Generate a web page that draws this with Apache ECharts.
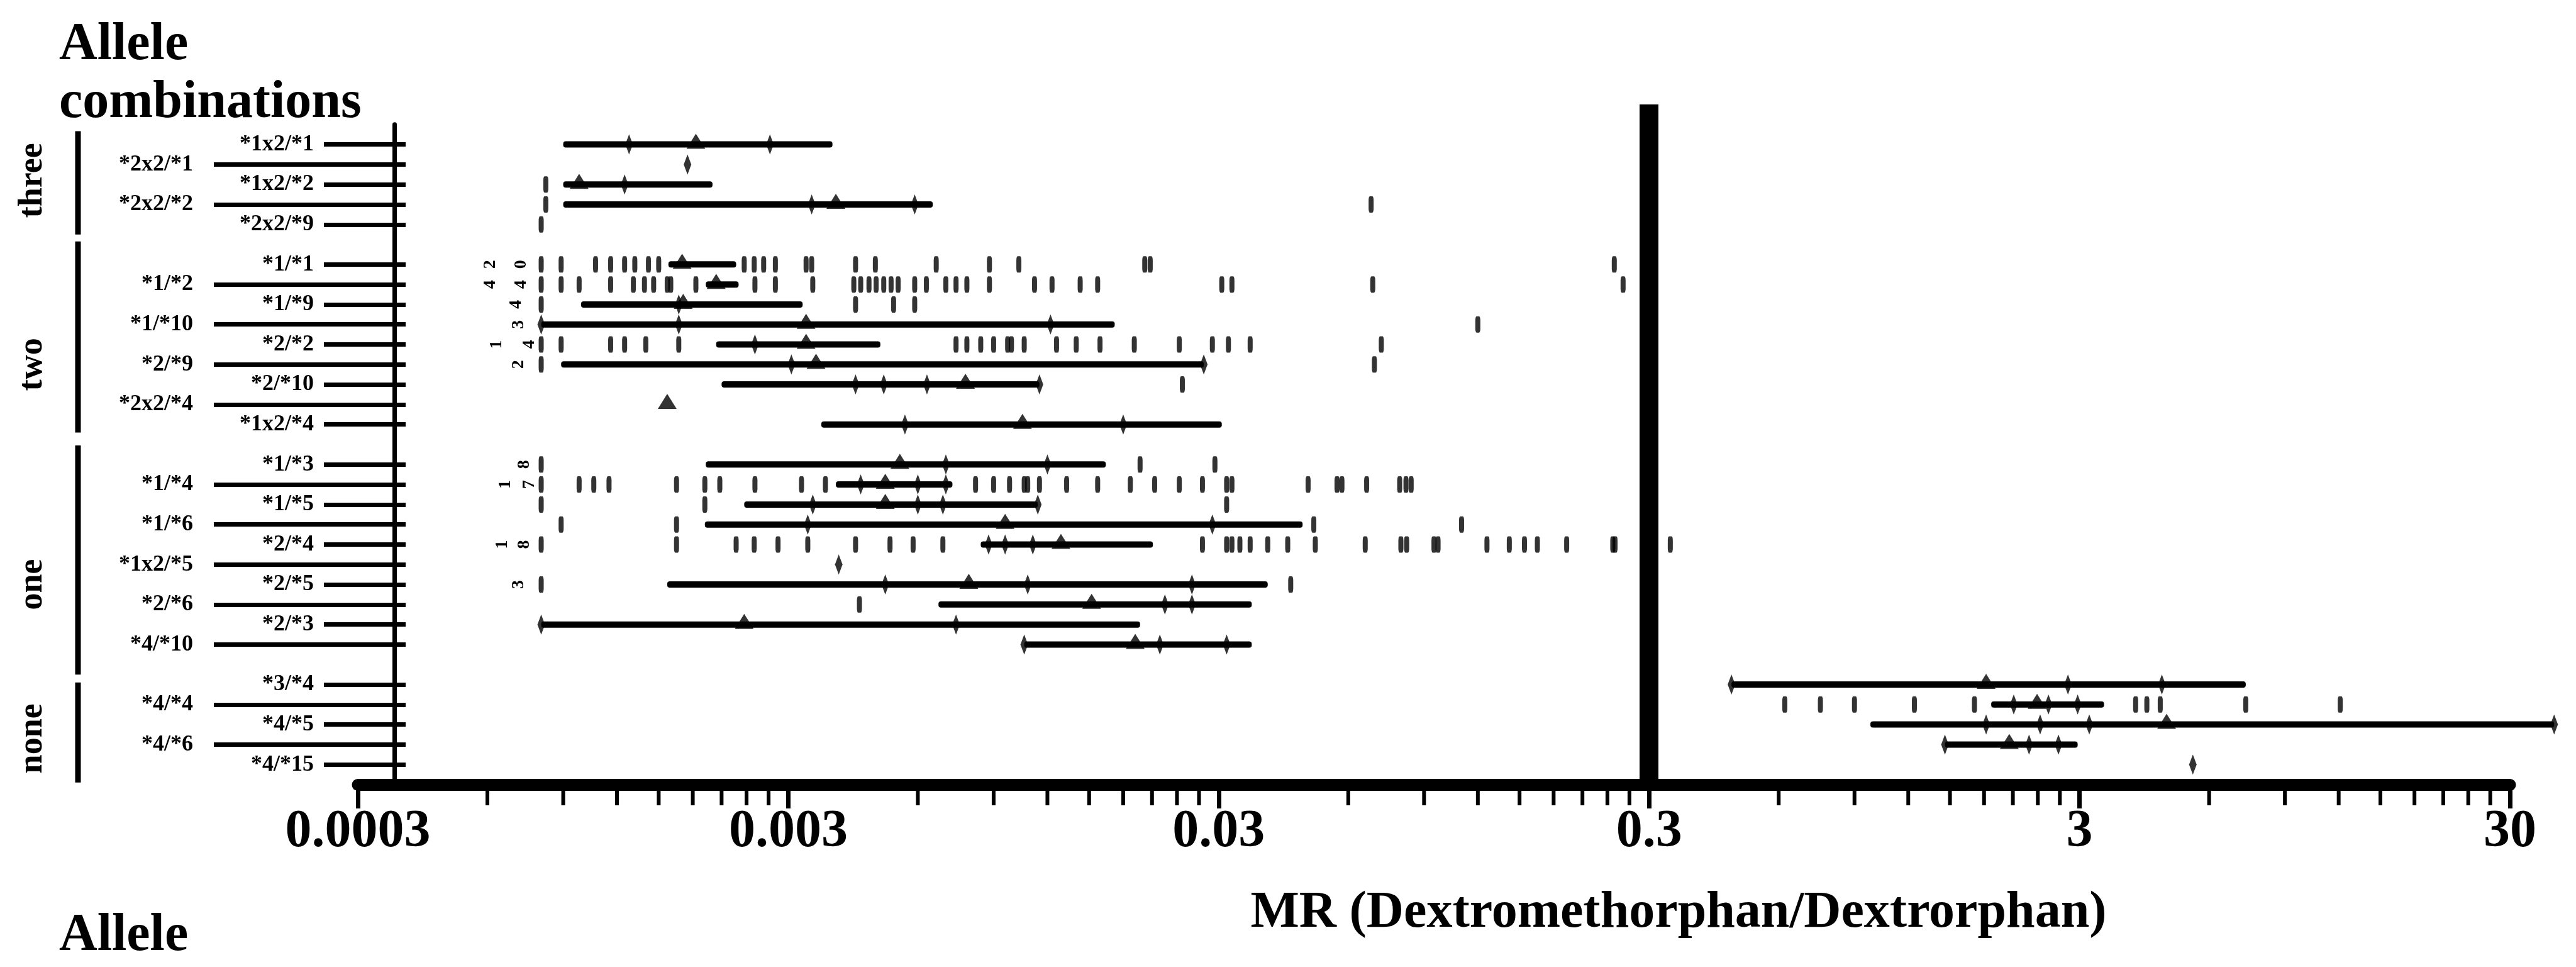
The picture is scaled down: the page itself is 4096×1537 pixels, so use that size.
<!DOCTYPE html>
<html><head><meta charset="utf-8">
<script src="https://cdn.jsdelivr.net/npm/echarts@6/dist/echarts.min.js"></script>
<style>html,body{margin:0;padding:0;background:#fff}#c{width:4096px;height:1537px}</style>
</head><body><div id="c"></div>
<script>
// ---------- data ----------
const groupNames = ['three', 'two', 'one', 'none'];
const groupSizes = [5, 9, 10, 5];
const rowLabels = [
  '*1x2/*1', '*2x2/*1', '*1x2/*2', '*2x2/*2', '*2x2/*9',
  '*1/*1', '*1/*2', '*1/*9', '*1/*10', '*2/*2', '*2/*9', '*2/*10', '*2x2/*4', '*1x2/*4',
  '*1/*3', '*1/*4', '*1/*5', '*1/*6', '*2/*4', '*1x2/*5', '*2/*5', '*2/*6', '*2/*3', '*4/*10',
  '*3/*4', '*4/*4', '*4/*5', '*4/*6', '*4/*15'
];
const tickLabels = ['0.0003', '0.003', '0.03', '0.3', '3', '30'];
const axisMin = 0.0003;
const minorMultipliers = [2, 3, 4, 5, 6, 7, 8, 9];
const threshold = 0.3;
const xAxisTitle = 'MR (Dextromethorphan/Dextrorphan)';

const rangeLow = [0.0009, null, 0.0009, 0.0009, null,
  0.00158, 0.00193, 0.00099, 0.0008, 0.00204, 0.00089, 0.0021, null, 0.00358,
  0.00193, 0.00387, 0.00237, 0.00192, 0.0084, null, 0.00157, 0.0067, 0.0008, 0.0106,
  0.466, 1.87, 0.98, 1.46, null];
const rangeHigh = [0.0038, null, 0.002, 0.0065, null,
  0.00227, 0.0023, 0.00324, 0.0172, 0.00491, 0.0277, 0.0115, null, 0.0305,
  0.0164, 0.00722, 0.0114, 0.047, 0.0211, null, 0.039, 0.0358, 0.0197, 0.0358,
  7.3, 3.42, 38, 2.97, null];
const medians = [0.00183, null, 0.00098, 0.00387, null,
  0.0017, 0.00204, 0.00171, 0.0033, 0.0033, 0.00348, 0.00774, 0.00157, 0.0105,
  0.00545, 0.00504, 0.00504, 0.00957, 0.0129, null, 0.00788, 0.0152, 0.00237, 0.0192,
  1.82, 2.39, 4.78, 2.06, null];
const markTicks = [
  [0.00128, 0.00272], [0.00175], [0.00125], [0.0034, 0.0059], [],
  [], [], [0.00167], [0.0008, 0.00167, 0.0122], [0.00251], [0.00305, 0.0277], [0.0043, 0.005, 0.0063, 0.0115], [], [0.0056, 0.018],
  [0.00697, 0.012], [0.00442, 0.006, 0.00697], [0.00342, 0.006, 0.00686, 0.0114], [0.00333, 0.029], [0.00876, 0.00957, 0.0111], [0.00393],
  [0.00504, 0.0108, 0.026], [0.0225, 0.026], [0.0008, 0.00736], [0.0106, 0.0219, 0.0313],
  [0.466, 2.82, 4.66], [2.11, 2.54, 2.97], [1.82, 2.43, 3.16, 38], [1.46, 2.29, 2.68], [5.5]
];
const points = [
  [], [], [0.00082], [0.00082, 0.0678], [0.0008],
  [0.0008, 0.00089, 0.00107, 0.00116, 0.00125, 0.00132, 0.00142, 0.0015, 0.00237, 0.0025, 0.00263, 0.0028, 0.0033, 0.0034, 0.0043, 0.00478, 0.00662, 0.0088, 0.0103, 0.0202, 0.0208, 0.249],
  [0.0008, 0.00089, 0.00098, 0.00116, 0.00131, 0.00139, 0.00146, 0.00157, 0.0016, 0.00183, 0.00251, 0.0028, 0.00342, 0.00426, 0.00442, 0.00462, 0.0048, 0.005, 0.0052, 0.0054, 0.0059, 0.00628, 0.00697, 0.00736, 0.0078, 0.0088, 0.0112, 0.0123, 0.0143, 0.0157, 0.0305, 0.0322, 0.0684, 0.261],
  [0.0008, 0.0043, 0.00527, 0.0059],
  [0.12],
  [0.0008, 0.00089, 0.00116, 0.00125, 0.0014, 0.00167, 0.00736, 0.0078, 0.0084, 0.009, 0.0097, 0.0099, 0.0106, 0.0126, 0.014, 0.0159, 0.0191, 0.0243, 0.029, 0.0316, 0.0355, 0.0716],
  [0.0008, 0.069],
  [0.0247],
  [],
  [],
  [0.0008, 0.0197, 0.0294],
  [0.0008, 0.00098, 0.00106, 0.00115, 0.00165, 0.00192, 0.00208, 0.00251, 0.00322, 0.00366, 0.00817, 0.009, 0.0098, 0.0106, 0.0108, 0.0115, 0.0133, 0.0157, 0.0187, 0.0213, 0.0243, 0.0275, 0.0313, 0.0322, 0.0484, 0.0565, 0.058, 0.0662, 0.079, 0.0817, 0.084],
  [0.0008, 0.00192, 0.0313],
  [0.00089, 0.00165, 0.0499, 0.11],
  [0.0008, 0.00165, 0.00227, 0.0025, 0.00284, 0.00333, 0.0043, 0.00517, 0.00585, 0.00686, 0.0275, 0.0313, 0.0322, 0.0336, 0.0355, 0.039, 0.0434, 0.0503, 0.0657, 0.0795, 0.082, 0.0949, 0.097, 0.126, 0.142, 0.154, 0.165, 0.193, 0.247, 0.25, 0.3, 0.336],
  [],
  [0.0008, 0.0441],
  [0.00439],
  [],
  [],
  [],
  [0.62, 0.75, 0.9, 1.24, 1.71, 4.05, 4.3, 4.62, 7.3, 12.1],
  [],
  [],
  []
];
// counts written beside the lower limit: [row, value, text]
const countRows = [5, 5, 6, 6, 7, 8, 9, 9, 10, 14, 15, 15, 18, 18, 20];
const countValues = [0.00061, 0.00072, 0.00061, 0.00072, 0.0007, 0.00071, 0.00063, 0.00075, 0.00071, 0.00073, 0.00066, 0.00075, 0.00065, 0.00073, 0.00071];
const countTexts = ['2', '0', '4', '4', '4', '3', '1', '4', '2', '8', '1', '7', '1', '8', '3'];

// ---------- layout helpers ----------
const FONT = "'Liberation Serif', 'Times New Roman', serif";
const L = v => Math.log10(v / axisMin);
const slotOf = [], colOf = [], groupOfRow = [];
(function () {
  let s = 0, r = 0;
  groupSizes.forEach((n, g) => {
    for (let i = 0; i < n; i++) { slotOf[r] = s; colOf[r] = (i % 2 === 0) ? 'R' : 'L'; groupOfRow[r] = g; s++; r++; }
    s++;
  });
})();
const NSLOT = 32;
const catRow = [];
const cats = [];
for (let i = 0; i <= NSLOT + 1; i++) {
  const slot = i - 1;
  cats.push('k' + i);
  catRow.push(slotOf.indexOf(slot));
}
const isRow = i => catRow[i] >= 0;
const isRight = i => catRow[i] >= 0 && colOf[catRow[i]] === 'R';
const isLeft = i => catRow[i] >= 0 && colOf[catRow[i]] === 'L';
const catLabel = v => { const i = +String(v).slice(1); return catRow[i] >= 0 ? rowLabels[catRow[i]] : ''; };

const whiskerData = [], pointData = [], markData = [], medData = [], countData = [];
rowLabels.forEach((_, r) => {
  const s = slotOf[r];
  if (rangeLow[r] != null) whiskerData.push([L(rangeLow[r]), L(rangeHigh[r]), s]);
  points[r].forEach(v => pointData.push([L(v), s]));
  markTicks[r].forEach(v => markData.push([L(v), s]));
  if (medians[r] != null) medData.push([L(medians[r]), s]);
});
countRows.forEach((r, k) => countData.push([L(countValues[k]), slotOf[r], countTexts[k]]));
const minorData = [];
tickLabels.slice(0, -1).forEach(t => minorMultipliers.forEach(m => minorData.push([L(parseFloat(t) * m), NSLOT])));

const GRID_LEFT = 569, GRID_RIGHT = 105, GRID_TOP = 166, GRID_BOTTOM = 290;
const SLOT_H = (1537 - GRID_TOP - GRID_BOTTOM) / (NSLOT + 2);

const chart = echarts.init(document.getElementById('c'), null, { renderer: 'canvas' });
const catAxisBase = { type: 'category', gridIndex: 1, data: cats, inverse: true, boundaryGap: false, position: 'left', offset: 0,
  splitLine: { show: false } };
const option = {
  animation: false,
  backgroundColor: '#fff',
  grid: [
    { left: GRID_LEFT, right: GRID_RIGHT, top: GRID_TOP, bottom: GRID_BOTTOM, outerBoundsMode: 'none', containLabel: false },
    { left: 627, right: GRID_RIGHT, top: GRID_TOP + SLOT_H, bottom: GRID_BOTTOM, outerBoundsMode: 'none', containLabel: false }
  ],
  xAxis: [
    {
      type: 'value', gridIndex: 0, min: 0, max: 5, interval: 1,
      axisLine: { show: true, onZero: false, lineStyle: { color: '#000', width: 19 } },
      axisTick: { show: true, length: 38, lineStyle: { color: '#000', width: 7 } },
      axisLabel: { show: true, showMinLabel: true, showMaxLabel: true, margin: 34, formatter: v => tickLabels[Math.round(v)],
        fontSize: 84, fontFamily: FONT, fontWeight: 'bold', color: '#000' },
      splitLine: { show: false }
    },
    { type: 'value', gridIndex: 1, min: 0, max: 5, show: false }
  ],
  yAxis: [
    { type: 'value', gridIndex: 0, min: -2, max: NSLOT, inverse: true, show: false },
    Object.assign({}, catAxisBase, {
      axisLine: { show: true, onZero: false, lineStyle: { color: '#000', width: 7 } },
      axisTick: { show: true, interval: isRight, length: 112, lineStyle: { color: '#000', width: 7 } },
      axisLabel: { show: true, interval: isRight, margin: 128, formatter: catLabel,
        fontSize: 36, fontFamily: FONT, fontWeight: 'bold', color: '#000' }
    }),
    Object.assign({}, catAxisBase, {
      axisLine: { show: false, onZero: false },
      axisTick: { show: true, interval: isLeft, length: 287, lineStyle: { color: '#000', width: 7 } },
      axisLabel: { show: true, interval: isLeft, margin: 320, formatter: catLabel,
        fontSize: 36, fontFamily: FONT, fontWeight: 'bold', color: '#000' }
    }),
    Object.assign({}, catAxisBase, {
      axisLine: { show: false, onZero: false },
      axisTick: { show: true, inside: true, interval: isRow, length: 18, lineStyle: { color: '#000', width: 7 } },
      axisLabel: { show: false }
    })
  ],
  series: [
    {
      type: 'custom', name: 'range', xAxisIndex: 0, yAxisIndex: 0, clip: false,
      encode: { x: [0, 1], y: 2 },
      renderItem: (params, api) => {
        const a = api.coord([api.value(0), api.value(2)]);
        const b = api.coord([api.value(1), api.value(2)]);
        return { type: 'rect', shape: { x: a[0], y: a[1] - 5, width: b[0] - a[0], height: 10, r: 4 }, style: { fill: '#000' } };
      },
      data: whiskerData
    },
    {
      type: 'scatter', name: 'points', xAxisIndex: 0, yAxisIndex: 0, symbol: 'roundRect', symbolSize: [8, 26],
      itemStyle: { color: '#000' }, data: pointData, clip: false,
      markLine: {
        silent: true, symbol: ['none', 'none'], label: { show: false },
        lineStyle: { color: '#000', width: 30, type: 'solid' },
        data: [{ xAxis: L(threshold) }]
      }
    },
    {
      type: 'scatter', name: 'ticks', xAxisIndex: 0, yAxisIndex: 0, symbol: 'diamond', symbolSize: [12, 32],
      itemStyle: { color: '#000' }, data: markData, clip: false
    },
    {
      type: 'scatter', name: 'median', xAxisIndex: 0, yAxisIndex: 0, symbol: 'triangle', symbolSize: [30, 24], symbolOffset: [0, -5],
      itemStyle: { color: '#000' }, data: medData, clip: false
    },
    {
      type: 'custom', name: 'counts', xAxisIndex: 0, yAxisIndex: 0, clip: false,
      encode: { x: 0, y: 1 },
      renderItem: (params, api) => {
        const p = api.coord([api.value(0), api.value(1)]);
        return { type: 'text', x: p[0], y: p[1], rotation: Math.PI / 2,
          style: { text: countTexts[params.dataIndex], fill: '#000', font: "bold 28px " + FONT, align: 'center', verticalAlign: 'middle' } };
      },
      data: countData
    },
    {
      type: 'custom', name: 'minor', xAxisIndex: 0, yAxisIndex: 0, clip: false,
      encode: { x: 0, y: 1 },
      renderItem: (params, api) => {
        const p = api.coord([api.value(0), api.value(1)]);
        return { type: 'line', shape: { x1: p[0], y1: p[1], x2: p[0], y2: p[1] + 33 }, style: { stroke: '#000', lineWidth: 6 } };
      },
      data: minorData
    }
  ]
};
chart.setOption(option);

// ---------- annotations: titles, group labels and brackets ----------
const yAt = s => chart.convertToPixel({ gridIndex: 0 }, [0, s])[1];
const bracketTop = [-0.66, -1.15, -0.95, -0.1];
const bracketBottom = [0.5, 0.4, 1.5, 0.9];
const groupLabelSlot = [1.8, 11, 22, 29.7];
const graphics = [
  { type: 'text', left: 94, top: 30, style: { text: 'Allele', font: 'bold 84px ' + FONT, fill: '#000' } },
  { type: 'text', left: 94, top: 122, style: { text: 'combinations', font: 'bold 84px ' + FONT, fill: '#000' } },
  { type: 'text', left: 94, top: 1446, style: { text: 'Allele', font: 'bold 84px ' + FONT, fill: '#000' } },
  { type: 'text', x: 2669, y: 1452, style: { text: xAxisTitle, font: 'bold 82px ' + FONT, fill: '#000', align: 'center', verticalAlign: 'middle' } }
];
let r0 = 0;
groupNames.forEach((g, gi) => {
  const first = slotOf[r0], last = slotOf[r0 + groupSizes[gi] - 1];
  const y1 = yAt(first + bracketTop[gi]), y2 = yAt(last + bracketBottom[gi]);
  graphics.push({ type: 'line', shape: { x1: 124, y1: y1, x2: 124, y2: y2 }, style: { stroke: '#000', lineWidth: 9 } });
  graphics.push({ type: 'text', x: 52, y: yAt(groupLabelSlot[gi]), rotation: Math.PI / 2,
    style: { text: g, font: 'bold 54px ' + FONT, fill: '#000', align: 'center', verticalAlign: 'middle' } });
  r0 += groupSizes[gi];
});
chart.setOption({ graphic: graphics });
</script>
</body></html>
